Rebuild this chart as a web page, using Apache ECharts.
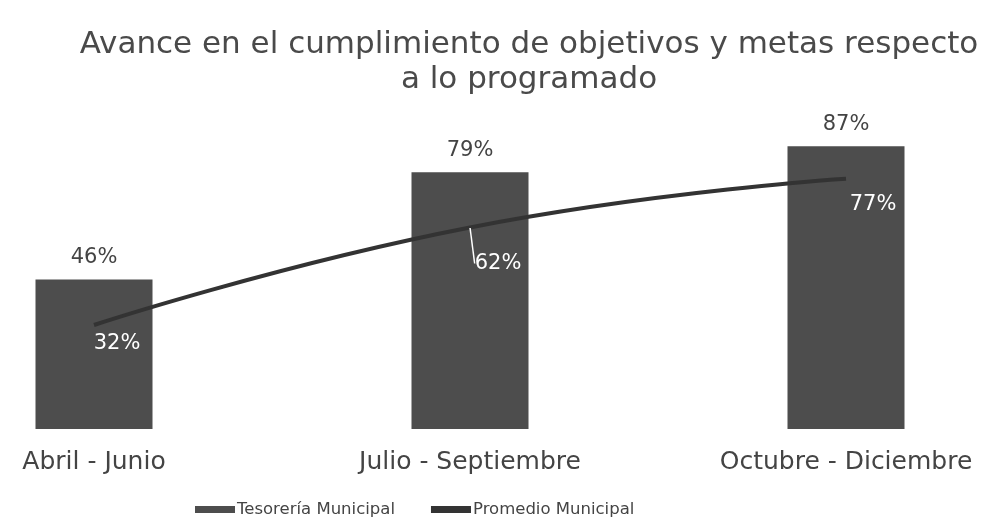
<!DOCTYPE html>
<html><head><meta charset="utf-8">
<script src="https://cdn.jsdelivr.net/npm/echarts@6/dist/echarts.min.js"></script>
<style>html,body{margin:0;padding:0;background:#fff}#c{width:992px;height:523px}</style>
</head><body><div id="c"></div>
<script>
const categories = ['Abril - Junio', 'Julio - Septiembre', 'Octubre - Diciembre'];
const tesoreria = [46, 79, 87];
const promedio = [32, 62, 77];

// label placement (style, not data)
const lineLabelShift = [[23, 19], [28, 36], [27, 26]];

const FONT = '"DejaVu Sans", Verdana, sans-serif';
const chart = echarts.init(document.getElementById('c'));
chart.setOption({
  animation: false,
  backgroundColor: '#fff',
  textStyle: { fontFamily: FONT },
  title: {
    text: 'Avance en el cumplimiento de objetivos y metas respecto\na lo programado',
    left: 524, top: 22, textAlign: 'center',
    textStyle: { fontSize: 31, fontWeight: 'normal', color: '#4a4a4a', lineHeight: 35, fontFamily: FONT }
  },
  legend: {
    bottom: 0, left: 190,
    itemWidth: 40, itemHeight: 7, itemGap: 36,
    textStyle: { fontSize: 16.5, color: '#444', padding: [0, 0, 0, -3], fontFamily: FONT },
    data: [
      { name: 'Tesorería Municipal', icon: 'rect' },
      { name: 'Promedio Municipal', icon: 'rect', itemStyle: { color: '#333', opacity: 1 } }
    ]
  },
  grid: { left: 94, right: 146, top: 104, bottom: 94 },
  xAxis: {
    type: 'category', data: categories, boundaryGap: false,
    axisLine: { show: false }, axisTick: { show: false },
    axisLabel: { fontSize: 25, color: '#444', margin: 21, fontFamily: FONT }
  },
  yAxis: { type: 'value', min: 0, max: 100, show: false, splitLine: { show: false } },
  series: [
    {
      name: 'Tesorería Municipal', type: 'bar', data: tesoreria, barWidth: 117,
      itemStyle: { color: '#4d4d4d' },
      label: { show: true, position: 'top', distance: 11, formatter: '{c}%', fontSize: 21, color: '#444', fontFamily: FONT }
    },
    {
      name: 'Promedio Municipal', type: 'line', smooth: true,
      data: promedio.map((v, i) => ({
        value: v,
        labelLine: { show: i === 1 }
      })),
      symbol: 'circle', symbolSize: 1, showSymbol: true,
      lineStyle: { color: '#333', width: 4 }, itemStyle: { color: '#333', opacity: 0 },
      label: { show: true, position: 'inside', formatter: '{c}%', fontSize: 21, color: '#fff', fontFamily: FONT, opacity: 1 },
      labelLine: { show: true, lineStyle: { color: '#fff', width: 1.5, opacity: 1 } },
      labelLayout: function (p) {
        const s = lineLabelShift[p.dataIndex];
        const lr = p.labelRect, r = p.rect;
        const ax = r.x + r.width / 2, ay = r.y + r.height / 2 + 1;
        const ex = lr.x + s[0] + lr.width / 2, ey = lr.y + s[1] - 5;
        const out = { dx: s[0], dy: s[1] };
        if (p.dataIndex === 1) out.labelLinePoints = [[ax, ay], [ex, ey]];
        return out;
      }
    }
  ]
});
</script></body></html>
